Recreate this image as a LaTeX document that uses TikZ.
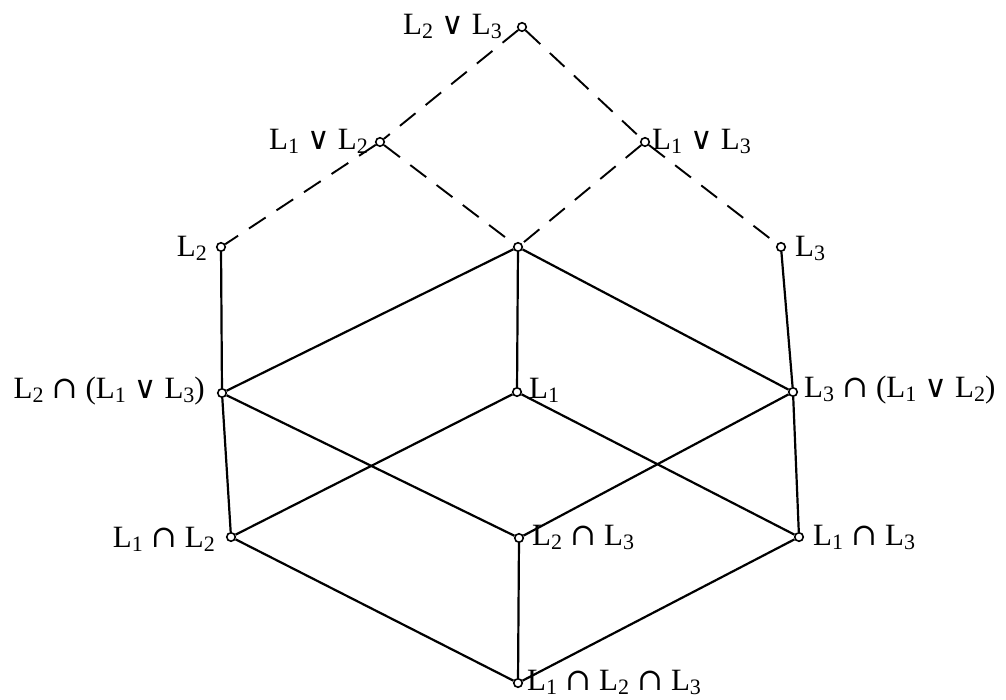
\documentclass[tikz,border=0pt]{standalone}
\usepackage{fontspec}
\setmainfont{Liberation Serif}
\newfontfamily\symfont{DejaVu Serif}
\usetikzlibrary{calc}
% L with a lowered index digit
\newcommand{\Lsub}[1]{L\lower4pt\hbox{\fontsize{22}{22}\selectfont#1}}
% meet and join with their surrounding space
\newcommand{\Cap}{\hspace{8pt}{\symfont ∩}\hspace{8pt}}
\newcommand{\Vee}{\hspace{8pt}{\symfont ∨}\hspace{8pt}}
\begin{document}
\begin{tikzpicture}[x=1pt,y=-1pt,
  vtx/.style={circle,draw,fill=white,line width=1.6pt,inner sep=0pt,minimum size=8.5pt},
  edge/.style={line width=2.2pt},
  dashedge/.style={line width=1.9pt,dash pattern=on 20pt off 13pt},
  lab/.style={inner sep=0pt,font=\fontsize{31}{37}\selectfont},
  labL/.style={lab,anchor=base east},
  labR/.style={lab,anchor=base west}]
\useasboundingbox (0,0) rectangle (1006,700);

% lattice elements
\node[vtx] (top) at (522,27) {};
\node[vtx] (v12) at (380,142) {};
\node[vtx] (v13) at (645,142) {};
\node[vtx] (l2)  at (221,247) {};
\node[vtx] (c)   at (518,247) {};
\node[vtx] (l3)  at (781,247) {};
\node[vtx] (m2)  at (222,393) {};
\node[vtx] (l1)  at (517,392) {};
\node[vtx] (m3)  at (793,392) {};
\node[vtx] (i12) at (231,537) {};
\node[vtx] (i23) at (519,538) {};
\node[vtx] (i13) at (799,537) {};
\node[vtx] (bot) at (518,683) {};

% upper part (dashed)
\draw[dashedge] (top) -- (v12);
\draw[dashedge] (top) -- (v13);
\draw[dashedge] (v12) -- (l2);
\draw[dashedge] (v12) -- (c);
\draw[dashedge] (v13) -- (c);
\draw[dashedge] (v13) -- (l3);

% lower part (solid)
\draw[edge] (l2) -- (m2);
\draw[edge] (c) -- (m2);
\draw[edge] (c) -- (l1);
\draw[edge] (c) -- (m3);
\draw[edge] (l3) -- (m3);
\draw[edge] (m2) -- (i12);
\draw[edge] (m2) -- (i23);
\draw[edge] (l1) -- (i12);
\draw[edge] (l1) -- (i13);
\draw[edge] (m3) -- (i23);
\draw[edge] (m3) -- (i13);
\draw[edge] (i12) -- (bot);
\draw[edge] (i23) -- (bot);
\draw[edge] (i13) -- (bot);

% labels
\node[labL] (ttop) at ($(top)+(-20,8)$) {\Lsub2\Vee\Lsub3};
\node[labL] (tv12) at ($(v12)+(-12,8)$) {\Lsub1\Vee\Lsub2};
\node[labR] (tv13) at ($(v13)+(7,8)$) {\Lsub1\Vee\Lsub3};
\node[labL] (tl2) at ($(l2)+(-14,10)$) {\Lsub2};
\node[labR] (tl3) at ($(l3)+(14,10)$) {\Lsub3};
\node[labL] (tm2) at ($(m2)+(-17,5)$) {\Lsub2\Cap(\Lsub1\Vee\Lsub3)};
\node[labR] (tl1) at ($(l1)+(12,6)$) {\Lsub1};
\node[labR] (tm3) at ($(m3)+(11,5)$) {\Lsub3\Cap(\Lsub1\Vee\Lsub2)};
\node[labL] (ti12) at ($(i12)+(-16,10)$) {\Lsub1\Cap\Lsub2};
\node[labR] (ti23) at ($(i23)+(13,7)$) {\Lsub2\Cap\Lsub3};
\node[labR] (ti13) at ($(i13)+(14,8)$) {\Lsub1\Cap\Lsub3};
\node[labR] (tbot) at ($(bot)+(9,7)$) {\Lsub1\Cap\Lsub2\Cap\Lsub3};
\end{tikzpicture}
\end{document}
